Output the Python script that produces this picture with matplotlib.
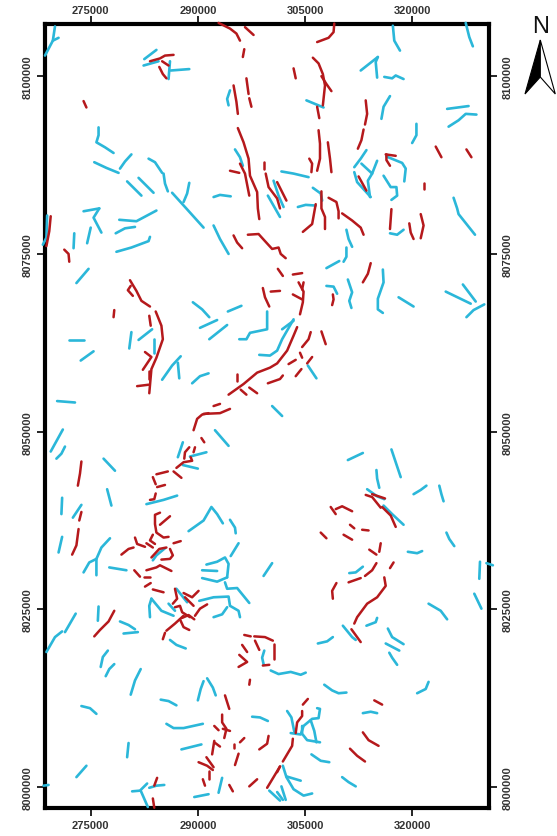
import matplotlib
matplotlib.use('Agg')
import matplotlib.pyplot as plt
from matplotlib.patches import Polygon

# easting in km, northing in km above 8000000 m
red_lines = [
    [(283.3,102.1),(284.7,102.5),(285.4,102.9),(286.6,103.0)], [(285.0,102.1),(285.9,101.5)],
    [(284.6,101.3),(285.1,100.3),(285.6,99.7)], [(292.9,107.5),(294.5,106.7),(295.4,106.0),(295.9,105.0)],
    [(296.6,106.9),(297.8,105.8)], [(296.5,103.8),(296.3,102.7)], [(296.8,99.7),(297.1,97.5)],
    [(297.2,96.9),(297.5,95.7)], [(295.0,98.7),(295.4,96.4),(295.6,94.7)], [(274.0,96.5),(274.4,95.6)],
    [(295.6,92.7),(296.4,90.7),(297.1,88.4),(297.3,86.0),(298.3,83.7),(298.4,81.4),(298.6,79.9)],
    [(294.5,86.7),(295.8,86.4)], [(295.9,87.7),(296.6,86.3),(297.2,83.2)], [(299.3,87.9),(299.3,87.0)],
    [(299.5,86.3),(299.9,84.4),(301.1,82.8),(301.5,81.4)], [(301.1,85.1),(302.4,82.5)],
    [(309.1,107.4),(309.0,106.2),(308.3,105.4),(306.7,104.8)], [(303.4,101.1),(303.7,99.7)],
    [(306.1,102.6),(306.9,101.8),(307.5,100.3),(307.8,98.7),(307.5,95.9)],
    [(307.3,100.0),(308.0,98.9),(308.7,97.9)], [(306.7,95.7),(307.0,94.1)],
    [(306.9,92.4),(307.1,90.5),(307.1,88.4),(306.7,86.7)], [(308.2,90.7),(308.5,88.4),(308.7,86.5)],
    [(305.6,88.4),(306.0,87.7),(305.9,86.5)], [(313.5,96.6),(313.7,94.7),(313.4,93.2)],
    [(313.2,92.5),(312.9,91.0),(312.4,89.8)], [(316.3,89.0),(317.7,88.8)],
    [(316.4,89.0),(316.4,88.2),(316.9,87.4)], [(323.3,90.1),(324.1,88.6)], [(327.6,89.7),(328.3,88.6)],
    [(321.6,85.0),(321.6,84.2)], [(312.5,85.9),(313.6,83.9)],
    [(308.3,82.9),(309.4,82.3),(309.7,81.0),(309.7,80.0)],
    [(307.3,83.8),(307.3,81.4),(307.8,80.2),(307.8,78.5)], [(306.5,82.0),(306.0,79.2),(304.7,78.1)],
    [(269.4,80.3),(269.2,78.2),(268.8,76.1)], [(271.3,75.6),(271.9,75.0),(272.0,73.9)],
    [(295.0,77.6),(295.5,76.6),(296.2,75.8)],
    [(297.0,77.7),(298.5,77.8),(299.4,76.8),(300.4,75.7),(301.3,75.9),(301.6,75.0),(302.3,74.4)],
    [(299.1,70.2),(299.4,68.9),(300.0,67.6)], [(300.2,69.7),(301.5,69.8)],
    [(280.5,71.3),(281.4,69.8),(282.1,68.4),(283.3,67.6)], [(280.6,70.5),(280.2,69.9),(280.9,69.1)],
    [(278.3,67.1),(278.2,66.1)], [(283.2,66.3),(283.4,64.9)],
    [(284.1,66.9),(284.9,64.9),(285.1,63.0),(284.2,60.4),(283.5,58.8),(283.2,55.4)],
    [(282.6,61.2),(283.5,60.5),(282.3,58.7)], [(281.5,56.4),(283.1,56.6)], [(283.1,58.6),(283.1,57.4)],
    [(295.5,58.1),(295.5,57.1)],
    [(294.3,55.2),(296.4,56.7),(298.3,58.3),(300.1,59.0),(301.1,59.6),(302.5,61.4),(303.4,63.5),(303.9,64.7)],
    [(299.8,56.8),(301.5,57.4),(301.9,57.9)], [(296.0,55.9),(296.8,55.2)], [(297.2,56.2),(298.3,55.4)],
    [(292.2,53.6),(293.1,53.9)], [(290.8,52.5),(293.1,52.6),(294.5,53.2)],
    [(289.4,50.2),(289.9,51.8),(290.6,52.4),(291.5,52.6)],
    [(310.2,80.7),(311.6,79.7),(312.8,78.7),(313.2,77.7)], [(317.1,81.3),(316.9,78.5)],
    [(319.6,79.3),(319.8,78.0),(320.2,77.1)], [(321.2,80.6),(321.6,79.0),(321.2,77.2)],
    [(314.2,73.7),(313.8,72.2),(313.1,71.0)], [(303.3,72.1),(304.6,72.3)], [(301.2,72.9),(301.9,71.9)],
    [(304.1,71.0),(304.8,69.7),(304.7,68.2),(304.3,66.5)], [(304.8,71.0),(304.6,70.0)],
    [(303.3,69.3),(304.6,68.6)], [(308.9,69.3),(309.0,68.6),(308.8,67.8)],
    [(305.8,64.0),(305.5,63.0),(304.6,61.9)], [(307.3,64.1),(307.9,62.3)], [(304.3,61.1),(304.6,60.4)],
    [(302.7,59.5),(303.7,60.1)], [(306.0,60.5),(305.3,59.6)], [(304.5,58.8),(303.7,57.8)],
    [(273.7,45.8),(273.5,44.1),(273.2,42.4)], [(273.7,38.7),(273.4,37.5)],
    [(273.3,36.3),(273.0,34.0),(272.4,32.7)], [(290.5,49.1),(290.9,48.5)],
    [(288.8,47.8),(288.2,47.1),(288.1,46.2)], [(289.6,47.8),(289.4,47.1)],
    [(287.0,44.9),(288.0,45.7),(289.2,45.9),(289.0,46.4)], [(286.6,44.4),(287.7,43.5)],
    [(284.2,44.0),(285.8,44.4)], [(283.7,43.6),(284.1,42.6)], [(284.3,42.2),(285.4,42.5)],
    [(284.1,41.3),(283.9,40.5),(283.3,40.4)],
    [(284.7,38.6),(284.0,38.3),(284.0,37.0),(284.2,35.8),(285.2,35.1),(285.9,35.2)],
    [(284.7,36.9),(286.1,38.1)], [(283.7,35.5),(283.3,34.7),(284.0,34.2)],
    [(281.2,35.1),(281.5,34.2),(282.6,33.8)], [(282.8,34.3),(283.7,33.7)],
    [(279.3,32.7),(280.3,33.5),(281.0,33.7)], [(286.6,34.3),(287.6,34.6)],
    [(283.5,32.3),(284.6,33.5),(285.6,33.7)], [(286.1,33.5),(286.5,32.6),(286.1,32.1),(284.9,32.0)],
    [(282.8,30.5),(284.2,30.9),(284.7,31.2),(286.3,30.4)], [(281.1,30.5),(281.9,29.6)],
    [(282.5,29.5),(283.3,29.5)], [(282.6,28.2),(283.4,28.7)], [(283.7,27.8),(285.2,27.4)],
    [(286.8,27.9),(287.1,26.5),(286.5,25.8)], [(286.8,25.3),(287.5,25.5),(287.8,24.6),(288.9,23.9)],
    [(288.0,27.3),(289.2,26.7),(290.1,27.6)], [(288.2,26.7),(289.4,25.5)],
    [(291.3,25.7),(290.3,25.1),(289.6,24.1)], [(278.3,24.8),(277.5,23.3),(276.3,22.1),(275.5,21.2)],
    [(288.0,24.1),(286.8,23.0),(285.6,22.0)], [(287.5,23.6),(288.0,22.5),(288.8,22.1)],
    [(285.4,21.7),(285.1,20.8)], [(287.8,23.8),(288.7,24.2),(289.5,23.6)], [(296.5,21.4),(297.4,21.2)],
    [(297.9,21.2),(299.4,21.1),(300.5,20.6)], [(300.7,20.1),(300.7,18.0)], [(298.0,20.6),(298.6,19.3)],
    [(296.2,20.0),(296.9,19.0)], [(295.8,18.6),(296.9,17.6),(295.7,16.9)], [(299.1,17.1),(300.0,17.2)],
    [(297.3,15.1),(297.2,14.4)], [(293.8,12.9),(294.4,11.0)],
    [(293.4,10.2),(293.4,9.1),(294.0,8.2),(293.7,6.9)], [(292.3,8.6),(292.9,8.0)],
    [(293.5,8.2),(294.5,7.9)], [(296.5,6.9),(295.9,6.3)], [(295.1,6.1),(295.1,5.5)],
    [(295.7,4.7),(295.2,3.1)], [(299.9,7.2),(299.7,6.1),(298.6,5.3)], [(292.3,6.5),(292.0,4.6)],
    [(292.3,6.3),(293.1,5.7)], [(291.2,4.2),(292.2,2.8)], [(290.1,3.5),(291.3,3.0),(292.1,2.4)],
    [(291.6,2.3),(291.6,1.1)], [(290.7,1.1),(291.0,0.2)], [(294.4,0.3),(294.9,-0.6)],
    [(297.2,0.1),(298.3,1.1)], [(301.5,2.9),(300.6,1.4),(299.7,-0.1)], [(284.3,1.3),(283.9,0.2)],
    [(283.7,-1.6),(283.9,-2.9)], [(311.5,22.2),(312.8,20.4)], [(314.7,12.2),(315.8,11.6)],
    [(305.4,12.4),(304.7,11.6)], [(304.6,10.7),(304.6,10.0),(303.9,9.1),(303.7,7.6)],
    [(303.3,6.8),(303.2,5.8),(301.9,3.6)], [(313.1,7.7),(313.9,6.6),(315.3,5.8)],
    [(311.3,5.4),(312.3,4.4),(313.4,3.6)], [(301.5,2.9),(301.1,2.1)],
    [(313.5,41.1),(314.4,40.8),(315.6,39.3)], [(314.4,41.2),(316.2,40.6)],
    [(315.8,39.4),(317.0,38.2),(317.7,36.6)], [(308.6,39.4),(309.3,38.4)],
    [(309.3,39.1),(310.2,39.5),(311.6,38.8)], [(311.3,36.9),(311.9,36.4)], [(313.0,36.2),(313.9,36.1)],
    [(307.2,35.8),(308.0,35.0)], [(310.4,35.5),(311.6,34.8)], [(314.0,33.4),(315.0,32.7)],
    [(315.6,34.3),(315.4,33.1)], [(315.0,31.5),(314.4,30.5),(313.4,29.7)], [(317.4,31.6),(316.9,30.8)],
    [(311.1,28.8),(312.8,29.4)], [(309.4,28.7),(308.8,27.6),(308.9,26.5)],
    [(316.1,29.5),(316.3,28.3),(315.1,26.7),(313.7,25.8),(312.3,23.9),(311.9,23.0)],
]
blue_lines = [
    [(270.0,107.0),(269.7,105.0),(268.6,102.9)], [(270.5,105.4),(269.7,105.0)],
    [(282.5,102.4),(284.2,103.7)], [(282.4,101.5),(284.5,102.1)], [(286.1,102.1),(285.9,99.6)],
    [(286.2,100.8),(288.8,101.0)], [(294.5,98.0),(294.1,96.8),(294.3,95.9)],
    [(276.1,92.8),(276.1,91.7),(275.8,90.7),(277.0,90.0),(278.2,89.2)],
    [(275.5,87.9),(277.2,87.1),(278.9,86.4)], [(280.7,89.0),(279.8,88.0),(279.1,87.0)],
    [(283.1,88.4),(284.0,87.9),(285.0,86.4)], [(285.2,86.3),(285.4,84.9),(285.8,83.8)],
    [(281.7,85.7),(283.8,83.6)], [(280.1,85.2),(282.1,83.2)], [(286.4,83.6),(288.2,81.6),(290.8,78.7)],
    [(288.8,85.0),(288.5,83.5),(288.0,82.3)], [(292.2,83.0),(293.1,83.3),(294.6,83.1)],
    [(295.2,89.7),(295.9,88.6),(296.3,87.4)], [(300.6,85.3),(301.3,83.2),(302.0,81.6)],
    [(299.8,83.2),(301.5,80.2)], [(317.3,107.1),(317.5,105.0),(318.3,103.6)],
    [(327.5,107.5),(328.0,105.5),(328.5,104.2)], [(312.8,100.8),(315.2,102.7)],
    [(315.2,102.7),(314.9,102.0),(315.1,99.8)], [(316.1,99.9),(317.2,99.7),(317.7,100.1),(318.8,99.6)],
    [(305.2,96.6),(307.6,95.6)], [(316.9,97.2),(316.0,95.7),(315.7,94.0)], [(324.9,95.4),(327.9,95.8)],
    [(325.1,92.9),(326.5,93.8),(327.5,94.7),(329.0,94.6)], [(320.6,93.3),(320.6,91.7),(320.0,90.6)],
    [(313.6,89.6),(312.8,88.4),(311.9,87.2)], [(312.9,87.7),(314.4,86.3),(315.1,88.1)],
    [(314.4,86.3),(313.8,85.3),(314.1,83.0)], [(311.9,86.5),(312.3,85.1),(314.2,83.0)],
    [(316.4,88.7),(318.6,87.8),(319.1,87.0),(318.9,85.2)],
    [(316.0,86.0),(317.0,84.4),(317.8,84.4),(317.9,83.2),(317.1,82.6)],
    [(301.7,86.6),(303.4,86.3),(305.5,85.8)], [(306.1,84.3),(307.2,83.5),(307.4,82.5)],
    [(304.0,81.6),(305.1,81.9),(306.5,81.8)], [(325.8,82.9),(326.3,81.4),(326.5,80.6),(328.8,77.7)],
    [(274.0,81.0),(276.2,81.4)], [(276.2,81.4),(275.4,80.1),(276.5,78.0)], [(275.0,78.7),(274.5,76.5)],
    [(272.7,77.9),(272.6,75.8)], [(279.0,79.8),(281.4,79.6),(284.2,81.1)],
    [(278.5,77.9),(279.8,78.6),(281.2,78.8)], [(278.6,75.3),(280.7,75.9),(283.1,76.8),(283.3,77.4)],
    [(268.9,80.4),(268.8,77.3),(268.3,76.3)], [(274.7,72.9),(273.0,70.9)],
    [(292.2,79.0),(293.1,77.1),(294.3,75.0)], [(289.3,68.2),(290.6,67.2),(291.6,66.1)],
    [(294.2,66.9),(296.1,67.7)], [(290.3,64.6),(292.7,65.7)], [(291.6,63.0),(294.1,65.0)],
    [(299.7,66.9),(299.7,64.4),(297.3,63.9),(296.8,63.0),(295.8,63.0)],
    [(298.6,60.8),(300.1,60.7),(301.1,61.4),(301.8,63.0),(303.4,65.8)], [(301.8,64.4),(303.4,65.6)],
    [(272.0,62.9),(274.1,62.9)], [(273.6,60.0),(275.4,61.3)], [(280.7,64.0),(280.4,61.7)],
    [(281.7,62.9),(283.6,64.4)], [(283.9,63.1),(283.9,61.0)], [(285.0,57.3),(286.4,59.3),(287.6,60.6)],
    [(287.2,59.7),(287.4,57.5)], [(289.2,56.8),(290.3,57.8),(291.5,58.2)], [(270.3,54.3),(272.8,54.1)],
    [(300.4,53.6),(301.8,52.2)], [(292.4,50.2),(294.3,48.0)],
    [(310.8,78.4),(311.1,77.1),(311.6,76.0)], [(310.8,75.9),(310.8,74.6),(310.4,73.9)],
    [(308.0,73.0),(309.8,74.0)], [(316.9,77.9),(317.9,77.7),(318.8,78.4)],
    [(308.0,70.5),(309.0,70.4),(309.5,69.4)], [(311.0,71.4),(311.6,69.6),(311.2,68.4),(311.5,67.4)],
    [(315.9,72.8),(316.0,71.0),(315.2,68.7),(315.2,67.2),(315.9,66.7)], [(318.1,68.9),(320.2,67.6)],
    [(324.7,69.7),(328.2,68.0)], [(327.1,70.7),(328.9,68.3)], [(327.6,66.1),(328.6,67.1),(330.1,67.9)],
    [(305.4,59.3),(306.6,57.5)], [(271.1,50.3),(269.4,47.2)], [(271.4,47.9),(270.9,46.9),(270.2,46.2)],
    [(276.8,46.2),(278.4,44.5)], [(277.3,41.9),(277.9,39.6)], [(271.0,40.7),(270.9,38.4)],
    [(273.7,39.7),(272.5,37.9)], [(271.0,35.2),(270.5,33.0)],
    [(277.7,35.0),(276.5,33.7),(275.8,32.1),(275.8,29.8)], [(275.8,32.1),(274.8,31.6),(274.0,30.2)],
    [(277.6,30.9),(280.0,30.5)], [(287.9,48.5),(287.2,46.4)], [(288.9,46.5),(291.2,47.1)],
    [(287.9,45.3),(290.0,44.8)], [(282.8,39.8),(285.2,40.4),(287.1,41.0)],
    [(288.7,36.0),(290.1,37.0),(290.8,37.5),(291.9,39.4),(292.7,38.4),(293.5,37.1)],
    [(294.5,37.6),(295.2,36.5),(295.3,35.7)], [(295.7,34.3),(294.6,32.5)], [(300.4,31.5),(299.2,29.7)],
    [(285.4,33.6),(284.2,32.6),(283.7,31.9)],
    [(291.2,31.3),(292.7,31.7),(293.8,32.3),(294.3,31.4),(294.1,29.5)], [(290.6,30.5),(292.7,30.4)],
    [(290.6,29.4),(292.7,28.9),(294.1,29.5)], [(293.8,28.8),(294.1,27.9),(295.5,28.0),(297.2,25.9)],
    [(290.2,26.2),(292.2,26.7),(294.3,26.8),(294.5,25.5),(295.7,24.8),(295.9,23.9)],
    [(287.0,27.9),(288.5,26.0)], [(283.5,26.5),(283.2,25.5),(283.3,23.9)],
    [(283.5,26.5),(284.9,24.8),(286.6,24.1)], [(285.9,25.8),(286.8,24.8)],
    [(294.1,25.3),(293.4,24.3),(292.2,23.9)], [(276.1,25.4),(276.0,23.4)],
    [(272.9,24.4),(271.4,21.8)], [(271.0,21.9),(270.0,21.1),(268.8,19.0)],
    [(279.1,23.3),(280.3,22.8),(281.2,22.2)], [(279.6,21.6),(281.6,21.8)],
    [(277.4,19.2),(276.7,18.3),(276.4,16.9)], [(278.3,17.3),(277.6,16.6),(277.1,15.6)],
    [(282.0,16.6),(281.2,15.0),(280.6,13.0)], [(286.1,20.7),(287.0,20.0),(288.3,19.5)],
    [(299.3,19.2),(299.0,18.2),(299.2,17.3)],
    [(300.2,16.4),(301.3,15.9),(303.0,16.2),(304.4,15.8),(305.1,16.1)],
    [(290.8,14.9),(290.4,13.8),(290.0,12.2)], [(291.3,15.3),(292.1,14.0),(292.5,12.9)],
    [(284.8,12.3),(285.9,12.1),(287.0,11.5)], [(273.7,11.4),(274.9,11.1),(275.8,10.3)],
    [(297.6,9.9),(298.7,9.8),(299.8,9.3)], [(285.6,8.9),(286.6,8.3),(288.0,8.3),(290.7,8.9)],
    [(287.7,5.3),(290.5,6.0)], [(280.3,6.2),(280.1,4.2)], [(274.4,3.0),(273.0,1.4)],
    [(268.4,0.2),(269.1,0.3)], [(280.8,-0.6),(281.9,-0.5),(282.9,0.5)], [(282.0,-0.5),(283.0,-2.8)],
    [(283.2,-0.1),(284.2,0.2),(285.3,0.3)], [(289.5,-1.4),(291.5,-1.0)], [(293.4,1.3),(292.9,-0.8)],
    [(300.0,-0.5),(301.5,-1.9)], [(315.1,23.8),(314.9,23.2),(313.6,22.7)],
    [(310.3,22.7),(311.6,21.1),(312.1,20.7)], [(306.8,20.2),(308.1,20.5),(308.9,21.1)],
    [(316.6,22.3),(317.2,21.1),(318.8,20.1)], [(316.3,20.2),(318.2,19.2)],
    [(316.8,18.9),(317.2,18.2),(317.9,17.2)], [(322.3,25.8),(324.0,24.8),(324.9,23.6)],
    [(307.7,14.4),(308.8,13.6),(309.7,13.2),(310.8,13.3)], [(322.3,14.8),(321.9,13.8),(320.7,13.2)],
    [(313.1,10.4),(314.2,10.6),(315.1,10.4)], [(302.5,10.7),(303.1,9.8),(303.5,7.8)],
    [(303.0,7.6),(304.4,7.4),(304.8,8.6),(306.0,9.6),(306.9,9.7),(307.1,11.0),(306.7,11.1)],
    [(305.8,9.4),(306.3,7.9),(306.6,6.3)], [(304.6,8.6),(304.6,7.5),(305.3,6.6),(307.1,6.3)],
    [(305.9,4.6),(307.2,3.7),(308.4,3.5)],
    [(301.9,3.0),(302.4,1.4),(303.4,-0.3),(304.8,-1.2),(306.0,-0.9)], [(302.4,1.5),(304.4,0.9)],
    [(301.7,0.1),(302.3,-1.8)], [(301.1,-0.7),(301.9,-1.8)], [(310.2,1.4),(311.1,0.7),(312.1,0.1)],
    [(311.0,46.0),(313.1,47.0)], [(317.1,47.5),(318.4,43.6)], [(315.0,44.6),(315.1,43.4),(315.4,42.1)],
    [(313.7,41.9),(315.1,40.9),(316.1,40.5)], [(320.2,41.2),(321.2,41.8),(322.0,42.4)],
    [(323.8,42.4),(324.1,41.2),(324.4,40.2)], [(316.0,39.6),(317.2,38.4),(318.8,36.9)],
    [(324.8,35.8),(325.2,34.9),(325.9,33.9)], [(319.4,33.1),(320.7,32.9),(321.4,33.2)],
    [(329.5,31.7),(329.4,29.3)], [(330.4,31.5),(331.3,31.2)], [(328.7,27.2),(329.7,25.1)],
    [(311.2,30.1),(312.1,30.2),(313.1,31.0)],
]
x_ticks = [275, 290, 305, 320]
x_labels = ['275000', '290000', '305000', '320000']
y_ticks = [0, 25, 50, 75, 100]
y_labels = ['8000000', '8025000', '8050000', '8075000', '8100000']

RED = '#b5191c'
BLUE = '#2bb7d9'
TEXT = '#333333'
W, H = 557, 837

fig = plt.figure(figsize=(W / 100, H / 100), dpi=100)
plt.rcParams['font.family'] = ['Liberation Sans', 'DejaVu Sans']
ax = fig.add_axes([44.7 / W, 1 - 808.7 / H, (489 - 44.7) / W, (808.7 - 25.3) / H])

# lines sit on top of the frame where they run into it
for line in blue_lines:
    xs, ys = zip(*line)
    ax.plot(xs, ys, color=BLUE, lw=1.9, solid_capstyle='round', solid_joinstyle='round',
            zorder=3, clip_on=False)
for line in red_lines:
    xs, ys = zip(*line)
    ax.plot(xs, ys, color=RED, lw=1.8, solid_capstyle='round', solid_joinstyle='round',
            zorder=3, clip_on=False)

ax.set_xlim(268.56, 330.76)
ax.set_ylim(-2.9, 107.3)
ax.set_xticks(x_ticks, x_labels, fontsize=8, fontweight='bold', color=TEXT)
ax.set_yticks(y_ticks, y_labels, fontsize=8, fontweight='bold', color=TEXT, rotation=90, va='center')
ax.tick_params(axis='x', length=6, width=1.2, pad=3.2)
ax.tick_params(axis='y', length=6, width=1.2, pad=2.7)
for spine in ax.spines.values():
    spine.set_linewidth(3)
    spine.set_color('black')

top = ax.secondary_xaxis('top')
top.set_xticks(x_ticks, x_labels, fontsize=8, fontweight='bold', color=TEXT)
top.tick_params(length=6, width=1.2, pad=0.8)
top.spines['top'].set_visible(False)

right = ax.secondary_yaxis('right')
right.set_yticks(y_ticks, y_labels, fontsize=8, fontweight='bold', color=TEXT, rotation=90, va='center')
right.tick_params(length=6, width=1.2, pad=4)
right.spines['right'].set_visible(False)

# north arrow, in figure pixels
over = fig.add_axes([0, 0, 1, 1])
over.set_xlim(0, W)
over.set_ylim(H, 0)
over.axis('off')
over.patch.set_alpha(0)
over.text(540.5, 27, 'N', fontsize=17, ha='center', va='center', color='#111111')
over.add_patch(Polygon([(540.3, 41), (525, 95), (540.3, 78)], facecolor='black', edgecolor='black', lw=0.8))
over.add_patch(Polygon([(540.3, 41), (555.3, 95), (540.3, 78)], facecolor='white', edgecolor='black', lw=0.8))

fig.savefig('out.png', dpi=100)
